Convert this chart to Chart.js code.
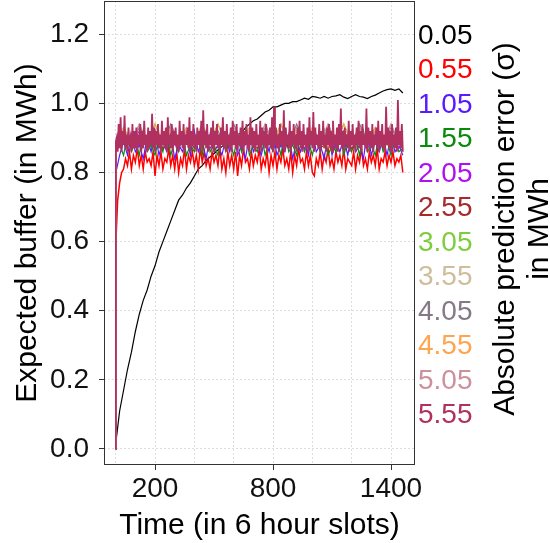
<!DOCTYPE html>
<html>
<head>
<meta charset="utf-8">
<script src="https://cdn.jsdelivr.net/npm/chart.js@4.4.0/dist/chart.umd.min.js"></script>
<style>
  body { margin: 0; background: #fff; }
  canvas { display: block; }
</style>
</head>
<body>
<canvas id="bufferChart" width="550" height="543"></canvas>
<script>
// sigma levels (legend) and their colours
const sigmaLabels = ["0.05", "0.55", "1.05", "1.55", "2.05", "2.55", "3.05", "3.55", "4.05", "4.55", "5.05", "5.55"];
const sigmaColors = ["#000000", "#ff0000", "#5a1aff", "#0a8a0a", "#b010f0", "#a52a2a", "#7fcd3f", "#cfbd9c", "#857888", "#ffa54f", "#cd919e", "#b03060"];

// every series starts at 0 in slot 0; first listed value is slot 1, then every `step` slots
const sampleSteps = [20, 10, 20, 20, 40, 40, 40, 40, 40, 40, 40, 5];

const buffer005 = [
  0.02, 0.11, 0.17, 0.23, 0.28, 0.34, 0.39, 0.43, 0.46, 0.50,
  0.53, 0.57, 0.60, 0.63, 0.66, 0.69, 0.72, 0.735, 0.755, 0.77,
  0.79, 0.81, 0.82, 0.835, 0.845, 0.855, 0.865, 0.875, 0.885, 0.89,
  0.90, 0.91, 0.915, 0.93, 0.94, 0.95, 0.955, 0.965, 0.975, 0.98,
  0.99, 0.99, 0.995, 1.0, 1.0, 1.005, 1.005, 1.01, 1.015, 1.012,
  1.02, 1.018, 1.015, 1.02, 1.015, 1.02, 1.022, 1.025, 1.018, 1.014,
  1.02, 1.025, 1.02, 1.018, 1.014, 1.02, 1.024, 1.03, 1.036, 1.04,
  1.042, 1.038, 1.042, 1.03
];
const buffer055 = [
  0.60, 0.72, 0.77, 0.80, 0.81, 0.84, 0.82, 0.86, 0.81, 0.85, 0.83, 0.87, 0.82, 0.85, 0.81, 0.86, 0.83, 0.84, 0.82, 0.86,
  0.79, 0.85, 0.82, 0.86, 0.81, 0.84, 0.83, 0.87, 0.82, 0.85, 0.81, 0.86, 0.80, 0.84, 0.82, 0.87, 0.81, 0.85, 0.83, 0.86,
  0.82, 0.85, 0.81, 0.87, 0.83, 0.86, 0.82, 0.84, 0.81, 0.86, 0.83, 0.85, 0.82, 0.87, 0.81, 0.84, 0.80, 0.86, 0.82, 0.85,
  0.81, 0.86, 0.79, 0.85, 0.82, 0.87, 0.83, 0.84, 0.81, 0.86, 0.82, 0.85, 0.83, 0.87, 0.81, 0.84, 0.82, 0.86, 0.80, 0.85,
  0.82, 0.86, 0.81, 0.85, 0.83, 0.87, 0.82, 0.84, 0.81, 0.86, 0.80, 0.85, 0.82, 0.87, 0.83, 0.84, 0.81, 0.86, 0.82, 0.85,
  0.80, 0.79, 0.84, 0.82, 0.86, 0.81, 0.85, 0.83, 0.87, 0.82, 0.84, 0.81, 0.86, 0.83, 0.85, 0.82, 0.87, 0.81, 0.84, 0.83,
  0.82, 0.86, 0.81, 0.85, 0.83, 0.87, 0.82, 0.84, 0.81, 0.86, 0.83, 0.85, 0.82, 0.87, 0.81, 0.84, 0.83, 0.86, 0.82, 0.85,
  0.83, 0.86, 0.82, 0.84, 0.83, 0.85, 0.80
];
const buffer105 = [
  0.80, 0.85, 0.89, 0.85, 0.91, 0.86, 0.88, 0.84, 0.90, 0.86, 0.92, 0.85, 0.89, 0.86, 0.91, 0.84, 0.88, 0.86, 0.90, 0.85,
  0.92, 0.86, 0.89, 0.84, 0.91, 0.86, 0.88, 0.85, 0.90, 0.86, 0.92, 0.85, 0.88, 0.84, 0.91, 0.86, 0.89, 0.85, 0.90, 0.86,
  0.92, 0.85, 0.88, 0.86, 0.91, 0.84, 0.89, 0.86, 0.90, 0.85, 0.92, 0.86, 0.88, 0.84, 0.91, 0.85, 0.89, 0.86, 0.90, 0.85,
  0.91, 0.86, 0.88, 0.84, 0.92, 0.85, 0.89, 0.86, 0.90, 0.85, 0.91, 0.86, 0.88, 0.85
];
const buffer155 = [
  0.86, 0.88, 0.85, 0.91, 0.86, 0.89, 0.85, 0.92, 0.86, 0.88, 0.85, 0.90, 0.86, 0.92, 0.85, 0.89, 0.86, 0.91, 0.85, 0.88,
  0.86, 0.90, 0.85, 0.92, 0.86, 0.88, 0.85, 0.91, 0.86, 0.89, 0.85, 0.90, 0.86, 0.92, 0.85, 0.88, 0.86, 0.91, 0.85, 0.89,
  0.86, 0.90, 0.85, 0.92, 0.86, 0.88, 0.85, 0.91, 0.86, 0.89, 0.85, 0.90, 0.86, 0.92, 0.85, 0.88, 0.86, 0.91, 0.85, 0.89,
  0.86, 0.90, 0.85, 0.92, 0.86, 0.88, 0.85, 0.91, 0.86, 0.89, 0.85, 0.90, 0.86, 0.87
];
const buffer205 = [
  0.87, 0.90, 0.88, 0.92, 0.87, 0.91, 0.88, 0.89, 0.87, 0.92, 0.88, 0.90, 0.87, 0.91, 0.88, 0.92, 0.87, 0.89, 0.88, 0.91,
  0.87, 0.90, 0.88, 0.92, 0.87, 0.91, 0.88, 0.89, 0.87, 0.92, 0.88, 0.90, 0.87, 0.91, 0.88, 0.92, 0.87, 0.89
];
const buffer255 = [
  0.88, 0.91, 0.87, 0.90, 0.88, 0.92, 0.87, 0.89, 0.88, 0.91, 0.87, 0.92, 0.88, 0.90, 0.87, 0.91, 0.88, 0.89, 0.87, 0.92,
  0.88, 0.90, 0.87, 0.91, 0.88, 0.92, 0.87, 0.89, 0.88, 0.91, 0.87, 0.90, 0.88, 0.92, 0.87, 0.91, 0.88, 0.90
];
const buffer305 = [
  0.89, 0.93, 0.88, 0.91, 0.89, 0.94, 0.88, 0.92, 0.89, 0.93, 0.88, 0.91, 0.89, 0.94, 0.88, 0.92, 0.89, 0.93, 0.88, 0.91,
  0.89, 0.94, 0.88, 0.92, 0.89, 0.93, 0.88, 0.91, 0.89, 0.94, 0.88, 0.92, 0.89, 0.93, 0.88, 0.91, 0.89, 0.92
];
const buffer355 = [
  0.88, 0.92, 0.89, 0.94, 0.88, 0.91, 0.89, 0.93, 0.88, 0.92, 0.89, 0.94, 0.88, 0.91, 0.89, 0.93, 0.88, 0.92, 0.89, 0.94,
  0.88, 0.91, 0.89, 0.93, 0.88, 0.92, 0.89, 0.94, 0.88, 0.91, 0.89, 0.93, 0.88, 0.92, 0.89, 0.94, 0.88, 0.91
];
const buffer405 = [
  0.89, 0.91, 0.88, 0.93, 0.89, 0.92, 0.88, 0.94, 0.89, 0.91, 0.88, 0.93, 0.89, 0.92, 0.88, 0.94, 0.89, 0.91, 0.88, 0.93,
  0.89, 0.92, 0.88, 0.94, 0.89, 0.91, 0.88, 0.93, 0.89, 0.92, 0.88, 0.94, 0.89, 0.91, 0.88, 0.93, 0.89, 0.92
];
const buffer455 = [
  0.88, 0.93, 0.89, 0.91, 0.88, 0.94, 0.89, 0.92, 0.88, 0.93, 0.89, 0.91, 0.88, 0.94, 0.89, 0.92, 0.88, 0.93, 0.89, 0.91,
  0.88, 0.94, 0.89, 0.92, 0.88, 0.93, 0.89, 0.91, 0.88, 0.94, 0.89, 0.92, 0.88, 0.93, 0.89, 0.91, 0.88, 0.92
];
const buffer505 = [
  0.89, 0.92, 0.88, 0.94, 0.89, 0.91, 0.88, 0.93, 0.89, 0.92, 0.88, 0.94, 0.89, 0.91, 0.88, 0.93, 0.89, 0.92, 0.88, 0.94,
  0.89, 0.91, 0.88, 0.93, 0.89, 0.92, 0.88, 0.94, 0.89, 0.91, 0.88, 0.93, 0.89, 0.92, 0.88, 0.94, 0.89, 0.91
];
const buffer555 = [
  0.89, 0.90, 0.86, 0.94, 0.87, 0.96, 0.86, 0.92, 0.88, 0.965, 0.87, 0.91, 0.86, 0.93, 0.88, 0.90, 0.86, 0.94, 0.87, 0.92,
  0.87, 0.93, 0.86, 0.91, 0.88, 0.94, 0.86, 0.92, 0.87, 0.95, 0.88, 0.91, 0.86, 0.93, 0.87, 0.92, 0.88, 0.97, 0.87, 0.93,
  0.86, 0.92, 0.88, 0.94, 0.87, 0.91, 0.86, 0.95, 0.88, 0.92, 0.87, 0.93, 0.86, 0.96, 0.88, 0.91, 0.87, 0.94, 0.86, 0.92,
  0.88, 0.93, 0.87, 0.91, 0.86, 0.95, 0.88, 0.92, 0.87, 0.94, 0.86, 0.91, 0.88, 0.93, 0.87, 0.96, 0.86, 0.92, 0.88, 0.94,
  0.87, 0.91, 0.86, 0.93, 0.88, 0.92, 0.87, 0.95, 0.86, 0.98, 0.88, 0.92, 0.87, 0.94, 0.86, 0.91, 0.88, 0.93, 0.87, 0.95,
  0.86, 0.92, 0.88, 0.94, 0.87, 0.91, 0.86, 0.93, 0.88, 0.96, 0.87, 0.92, 0.86, 0.94, 0.88, 0.91, 0.87, 0.93, 0.86, 0.95,
  0.88, 0.92, 0.87, 0.94, 0.86, 0.91, 0.88, 0.93, 0.87, 0.95, 0.86, 0.92, 0.88, 0.94, 0.87, 0.91, 0.86, 0.96, 0.88, 0.93,
  0.87, 0.92, 0.86, 0.94, 0.88, 0.91, 0.87, 0.95, 0.86, 0.93, 0.88, 0.92, 0.87, 0.94, 0.86, 0.91, 0.88, 0.93, 0.87, 0.96,
  0.86, 0.99, 0.88, 0.93, 0.87, 0.91, 0.86, 0.94, 0.88, 0.92, 0.87, 0.98, 0.86, 0.93, 0.88, 0.91, 0.87, 0.95, 0.86, 0.92,
  0.88, 0.94, 0.87, 0.91, 0.86, 0.93, 0.88, 0.95, 0.87, 0.92, 0.86, 0.94, 0.88, 0.91, 0.87, 0.93, 0.86, 0.96, 0.88, 0.92,
  0.87, 0.975, 0.86, 0.93, 0.88, 0.91, 0.87, 0.94, 0.86, 0.92, 0.88, 0.95, 0.87, 0.91, 0.86, 0.93, 0.88, 0.94, 0.87, 0.92,
  0.86, 0.95, 0.88, 0.91, 0.87, 0.93, 0.86, 0.94, 0.88, 0.985, 0.87, 0.92, 0.86, 0.93, 0.88, 0.91, 0.87, 0.95, 0.86, 0.92,
  0.88, 0.94, 0.87, 0.91, 0.86, 0.93, 0.88, 0.95, 0.87, 0.92, 0.86, 0.94, 0.88, 0.91, 0.87, 0.985, 0.86, 0.93, 0.88, 0.92,
  0.87, 0.94, 0.86, 0.91, 0.88, 0.93, 0.87, 0.95, 0.86, 0.92, 0.88, 0.94, 0.87, 0.91, 0.86, 0.99, 0.88, 0.93, 0.87, 0.92,
  0.86, 0.94, 0.88, 0.91, 0.87, 0.93, 0.86, 1.01, 0.88, 0.92, 0.87, 0.94, 0.86
];
const seriesValues = [buffer005, buffer055, buffer105, buffer155, buffer205, buffer255,
                      buffer305, buffer355, buffer405, buffer455, buffer505, buffer555];
const lineWidths = [1.2, 1.5, 1.2, 1.2, 1.2, 1.2, 1.2, 1.2, 1.2, 1.2, 1.2, 1.8];

const xGridSlots = [0, 200, 400, 600, 800, 1000, 1200, 1400];
const xTickLabels = [200, 800, 1400];
const yTicks = [0, 0.2, 0.4, 0.6, 0.8, 1.0, 1.2];
const lastSlot = 1460;

function toPoints(values, step) {
  const pts = [{ x: 0, y: 0 }];
  values.forEach((v, k) => {
    pts.push({ x: Math.min(Math.max(k * step, 1), lastSlot), y: v });
  });
  return pts;
}

const datasets = seriesValues.map((vals, i) => ({
  label: sigmaLabels[i],
  data: toPoints(vals, sampleSteps[i]),
  borderColor: sigmaColors[i],
  borderWidth: lineWidths[i],
  pointRadius: 0,
  tension: 0,
  order: seriesValues.length - i // last sigma drawn on top
}));

const FONT = "'Liberation Sans', Arial, sans-serif";

// titles, legend and panel border
const decorations = {
  id: "decorations",
  afterDraw(chart) {
    const ctx = chart.ctx;
    const a = chart.chartArea;
    ctx.save();
    ctx.strokeStyle = "#333";
    ctx.lineWidth = 1;
    ctx.strokeRect(a.left + 0.5, a.top + 0.5, a.right - a.left - 1, a.bottom - a.top - 1);

    ctx.fillStyle = "#000";
    ctx.font = "30px " + FONT;
    ctx.textAlign = "center";
    ctx.textBaseline = "middle";
    ctx.fillText("Time (in 6 hour slots)", (a.left + a.right) / 2, 526);

    ctx.save();
    ctx.translate(28, (a.top + a.bottom) / 2);
    ctx.rotate(-Math.PI / 2);
    ctx.fillText("Expected buffer (in MWh)", 0, 0);
    ctx.restore();

    ctx.save();
    ctx.translate(506, 229);
    ctx.rotate(-Math.PI / 2);
    ctx.fillText("Absolute prediction error (\u03c3)", 0, 0);
    ctx.fillText("in MWh", 0, 34);
    ctx.restore();

    ctx.font = "28px " + FONT;
    ctx.textAlign = "left";
    sigmaLabels.forEach((lab, i) => {
      ctx.fillStyle = sigmaColors[i];
      ctx.fillText(lab, 418, 36 + i * 34.5);
    });
    ctx.restore();
  }
};

new Chart(document.getElementById("bufferChart"), {
  type: "line",
  data: { datasets: datasets },
  options: {
    responsive: false,
    animation: false,
    devicePixelRatio: 1,
    layout: { padding: { left: 0, right: 135, top: 1, bottom: 0 } },
    plugins: { legend: { display: false }, tooltip: { enabled: false } },
    scales: {
      x: {
        type: "linear",
        min: -59.5,
        max: 1522,
        afterBuildTicks: (s) => { s.ticks = xGridSlots.map((v) => ({ value: v })); },
        afterFit: (s) => { s.height = 78; s.paddingLeft = 0; s.paddingRight = 0; },
        ticks: {
          autoSkip: false,
          maxRotation: 0,
          padding: 2,
          color: "#111",
          font: { size: 28, family: FONT },
          callback: (v) => (xTickLabels.includes(v) ? String(v) : "")
        },
        grid: {
          color: "#d6d6d6",
          lineWidth: 0.8,
          tickLength: 5,
          tickWidth: 1,
          tickBorderDash: [],
          tickColor: (c) => (c.tick && xTickLabels.includes(c.tick.value) ? "#333" : "rgba(0,0,0,0)")
        },
        border: { display: false, dash: [2, 2] }
      },
      y: {
        min: -0.0463,
        max: 1.2963,
        afterBuildTicks: (s) => { s.ticks = yTicks.map((v) => ({ value: v })); },
        afterFit: (s) => { s.width = 104; s.paddingTop = 0; s.paddingBottom = 0; },
        ticks: {
          padding: 10,
          color: "#111",
          font: { size: 28, family: FONT },
          callback: (v) => v.toFixed(1)
        },
        grid: {
          color: "#d6d6d6",
          lineWidth: 0.8,
          tickLength: 5,
          tickWidth: 1,
          tickBorderDash: [],
          tickColor: "#333"
        },
        border: { display: false, dash: [2, 2] }
      }
    }
  },
  plugins: [decorations]
});
</script>
</body>
</html>
